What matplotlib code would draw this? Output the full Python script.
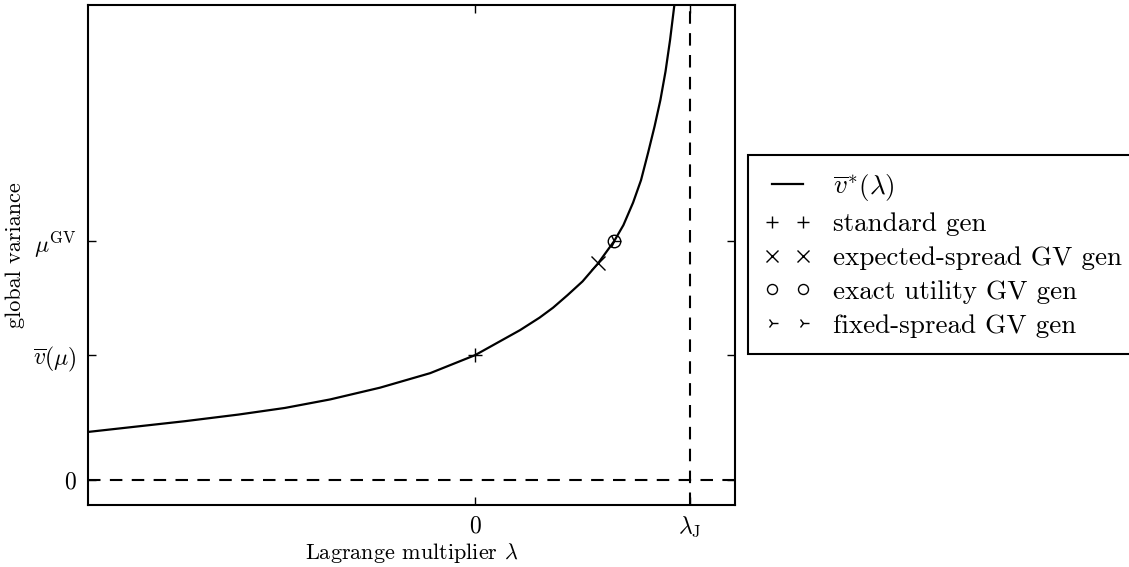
import numpy as np
import matplotlib
matplotlib.use("Agg")
import matplotlib.pyplot as plt

plt.rcParams['font.family'] = 'serif'
plt.rcParams['font.serif'] = ['cmr10']
plt.rcParams['mathtext.fontset'] = 'cm'
plt.rcParams['axes.formatter.use_mathtext'] = True

# curve (lambda, global variance), lambda_J = 1, vbar(mu) = 1
lam = [-1.80, -1.349, -1.10, -0.884, -0.674, -0.442, -0.209, 0.0, 0.209, 0.30,
       0.363, 0.43, 0.50, 0.572, 0.647, 0.69, 0.735, 0.772, 0.805, 0.835,
       0.862, 0.886, 0.907, 0.927, 0.945]
var = [0.386, 0.472, 0.525, 0.578, 0.646, 0.740, 0.856, 1.0, 1.20, 1.30,
       1.38, 1.48, 1.59, 1.734, 1.912, 2.04, 2.22, 2.40, 2.62, 2.83,
       3.04, 3.27, 3.52, 3.80, 4.10]

lam_J = 1.0
v_mu = 1.0
mu_gv = 1.912

std_pt = (0.0, 1.0)
exp_pt = (0.572, 1.734)
exact_pt = (0.647, 1.912)
fixed_pt = (0.647, 1.912)

fig = plt.figure(figsize=(11.29, 5.67), dpi=100)
ax = fig.add_axes([0.078, 0.109, 0.573, 0.882])

ax.plot(lam, var, color='k', lw=1.6, label=r'$\overline{v}^{*}(\lambda)$')
ax.plot([std_pt[0]], [std_pt[1]], 'k+', ms=10, mew=1, label='standard gen')
ax.plot([exp_pt[0]], [exp_pt[1]], 'kx', ms=10, mew=1, label='expected-spread GV gen')
ax.plot([exact_pt[0]], [exact_pt[1]], 'ko', ms=9, mfc='none', mew=1, label='exact utility GV gen')
ax.plot([fixed_pt[0]], [fixed_pt[1]], 'k4', ms=10, mew=1, label='fixed-spread GV gen')

ax.axhline(0, color='k', ls=(0, (6, 4.5)), lw=1.5)
ax.axvline(lam_J, color='k', ls=(0, (6, 4.5)), lw=1.5)

ax.set_xlim(-1.8, 1.209)
ax.set_ylim(-0.2, 3.8)

ax.set_xticks([0, lam_J])
ax.set_xticklabels([r'$0$', r'$\lambda_{\mathrm{J}}$'], fontsize=17)
ax.set_yticks([0, v_mu, mu_gv])
ax.set_yticklabels([r'$0$', r'$\overline{v}(\mu)$', r'$\mu^{\mathrm{GV}}$'], fontsize=17)
ax.tick_params(axis='x', direction='in', top=True, length=6, width=1, pad=7)
ax.tick_params(axis='y', direction='in', right=True, length=6, width=1, pad=8)

ax.set_xlabel(r'Lagrange multiplier $\lambda$', fontsize=16, labelpad=1)
ax.set_ylabel('global variance', fontsize=16, labelpad=6)

for s in ax.spines.values():
    s.set_linewidth(1.5)

leg = ax.legend(loc='center left', bbox_to_anchor=(1.02, 0.501), numpoints=2,
                markerscale=0.8,
                fontsize=19.5, fancybox=False, framealpha=1, edgecolor='k',
                handlelength=1.75, handletextpad=0.8, borderpad=0.6,
                labelspacing=0.36, borderaxespad=0)
leg.get_frame().set_linewidth(1.5)

fig.savefig('out.png', dpi=100)
